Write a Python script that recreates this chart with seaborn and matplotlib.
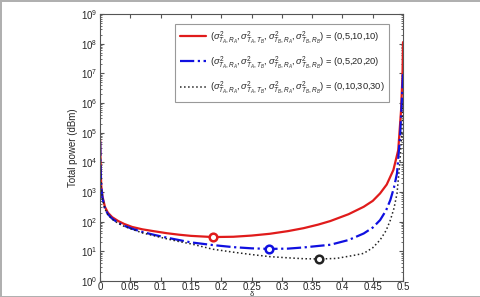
import numpy as np
import pandas as pd
import matplotlib
matplotlib.use("Agg")
import matplotlib.pyplot as plt
import matplotlib.ticker as mticker
import seaborn as sns

# --------------------------------------------------------------
# Data (delta vs total power)
# --------------------------------------------------------------
red_delta = [0.0002, 0.001, 0.002, 0.004, 0.008, 0.013, 0.02, 0.03, 0.04, 0.053,
             0.07, 0.088, 0.11, 0.13, 0.15, 0.186, 0.22, 0.25, 0.28, 0.31,
             0.336, 0.36, 0.38, 0.41, 0.435, 0.45, 0.462, 0.473, 0.484, 0.492,
             0.4967, 0.499, 0.4999]
red_logp = [4.75, 3.8, 3.2, 2.85, 2.5, 2.3, 2.15, 2.02, 1.92, 1.82,
            1.74, 1.68, 1.61, 1.56, 1.52, 1.48, 1.49, 1.53, 1.59, 1.68,
            1.78, 1.9, 2.02, 2.25, 2.5, 2.7, 2.95, 3.25, 3.74, 4.41,
            5.76, 6.9, 8.05]

blue_delta = [0.0002, 0.001, 0.002, 0.004, 0.008, 0.013, 0.02, 0.03, 0.04, 0.053,
              0.07, 0.09, 0.11, 0.13, 0.15, 0.186, 0.22, 0.25, 0.279, 0.31,
              0.336, 0.36, 0.38, 0.41, 0.435, 0.45, 0.462, 0.472, 0.479, 0.485,
              0.49, 0.495, 0.4978, 0.4999]
blue_logp = [4.7, 3.7, 3.15, 2.8, 2.45, 2.25, 2.1, 1.96, 1.86, 1.76,
             1.65, 1.55, 1.46, 1.38, 1.3, 1.21, 1.14, 1.1, 1.08, 1.09,
             1.13, 1.18, 1.22, 1.38, 1.6, 1.8, 2.05, 2.38, 2.73, 3.15,
             3.63, 4.86, 6.0, 7.0]

black_delta = [0.0002, 0.001, 0.002, 0.004, 0.008, 0.013, 0.02, 0.03, 0.04, 0.053,
               0.07, 0.09, 0.11, 0.13, 0.15, 0.186, 0.22, 0.25, 0.28, 0.31,
               0.336, 0.362, 0.39, 0.418, 0.435, 0.45, 0.462, 0.472, 0.479, 0.485,
               0.49, 0.495, 0.498, 0.4999]
black_logp = [4.7, 3.7, 3.12, 2.78, 2.43, 2.23, 2.08, 1.94, 1.84, 1.74,
              1.62, 1.52, 1.42, 1.33, 1.25, 1.07, 0.97, 0.89, 0.82, 0.78,
              0.75, 0.74, 0.76, 0.86, 0.93, 1.12, 1.38, 1.7, 2.05, 2.45,
              2.95, 4.07, 5.0, 6.0]

# minimum points (delta, log10 power)
min_delta = [0.186, 0.279, 0.362]
min_logp = [1.48, 1.08, 0.74]

labels = [
    r"$(\sigma^2_{T_A,R_A},\sigma^2_{T_A,T_B},\sigma^2_{T_B,R_A},\sigma^2_{T_B,R_B})$ = (0,5,10,10)",
    r"$(\sigma^2_{T_A,R_A},\sigma^2_{T_A,T_B},\sigma^2_{T_B,R_A},\sigma^2_{T_B,R_B})$ = (0,5,20,20)",
    r"$(\sigma^2_{T_A,R_A},\sigma^2_{T_A,T_B},\sigma^2_{T_B,R_A},\sigma^2_{T_B,R_B})$ = (0,10,30,30)",
]
colors = ["#e01b1b", "#1010e0", "#222222"]
styles = ["-", "-.", ":"]
widths = [1.6, 1.6, 1.1]

# --------------------------------------------------------------
# Plot settings
# --------------------------------------------------------------
sns.set_style("ticks")
plt.rcParams["font.family"] = ["Liberation Sans", "DejaVu Sans"]
plt.rcParams["mathtext.fontset"] = "custom"
plt.rcParams["mathtext.rm"] = "Liberation Sans"
plt.rcParams["mathtext.it"] = "Liberation Sans:italic"
plt.rcParams["mathtext.sf"] = "Liberation Sans"
plt.rcParams["font.size"] = 7

fig = plt.figure(figsize=(4.81, 2.97), dpi=100)
fig.patch.set_edgecolor("#b0b0b0")
fig.patch.set_linewidth(1.0)
ax = fig.add_axes([0.208, 0.054, 0.630, 0.899])

series = [(red_delta, red_logp), (blue_delta, blue_logp), (black_delta, black_logp)]
for (d, lp), lab, c, ls, lw in zip(series, labels, colors, styles, widths):
    df = pd.DataFrame({"delta": d, "power": 10.0 ** np.array(lp)})
    sns.lineplot(data=df, x="delta", y="power", ax=ax, color=c, linestyle=ls,
                 linewidth=lw, label=lab, sort=False)

for d, lp, c in zip(min_delta, min_logp, colors):
    ax.plot(d, 10.0 ** lp, "o", color=c, markersize=5.5, markerfacecolor="white",
            markeredgewidth=1.8, zorder=5)

ax.set_yscale("log")
ax.set_xlim(0, 0.5)
ax.set_ylim(1, 1e9)
ax.set_xticks(np.arange(0, 0.501, 0.05))
ax.xaxis.set_major_formatter(mticker.FormatStrFormatter("%g"))
ax.set_yticks([10.0 ** k for k in range(10)])
ax.yaxis.set_minor_locator(mticker.LogLocator(base=10, subs=np.arange(2, 10), numticks=20))
ax.yaxis.set_minor_formatter(mticker.NullFormatter())
ax.tick_params(which="both", direction="in", top=True, right=True, labelsize=7,
               color="#555555")
ax.tick_params(axis="x", pad=0.5)
ax.tick_params(axis="y", pad=2)
ax.tick_params(which="major", length=3)
ax.tick_params(which="minor", length=1.5)
for s in ax.spines.values():
    s.set_color("#555555")
    s.set_linewidth(0.8)

ax.set_xlabel("δ", fontsize=5.5)
ax.xaxis.set_label_coords(0.5, -0.036)
ax.set_ylabel("Total power (dBm)", fontsize=7, labelpad=2)

leg = ax.legend(loc="upper right", bbox_to_anchor=(0.955, 0.962), fontsize=6.7,
                frameon=True, fancybox=False, edgecolor="#808080",
                handlelength=2.8, borderpad=0.55, labelspacing=0.95, handletextpad=0.4,
                borderaxespad=0.0)
leg.get_frame().set_linewidth(0.8)

plt.savefig("out.png", dpi=100)
